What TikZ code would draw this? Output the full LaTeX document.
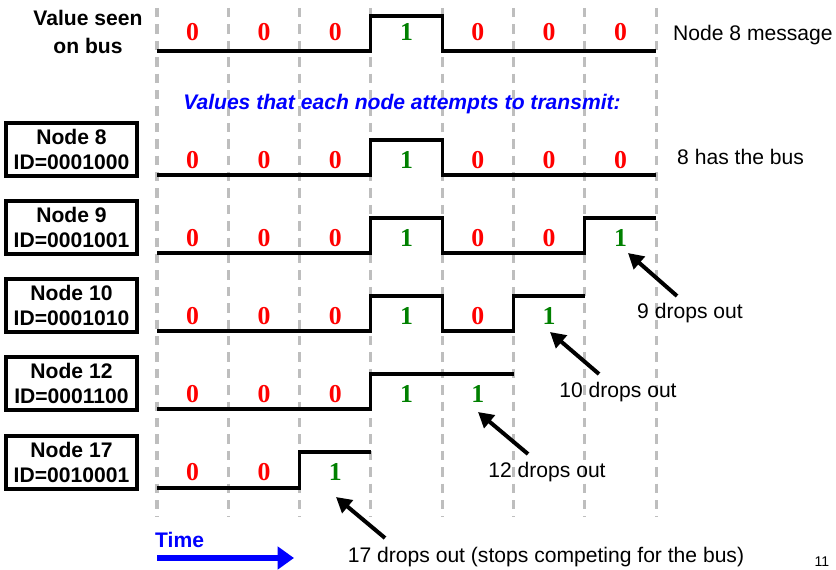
\documentclass[tikz,border=0pt]{standalone}
\usepackage{fontspec}
\setmainfont{Liberation Sans}
\newfontfamily\digfont{Liberation Serif}
\usetikzlibrary{arrows.meta}
\definecolor{gridgray}{RGB}{190,190,190}
\definecolor{dgreen}{RGB}{0,128,0}
\definecolor{tblue}{RGB}{0,0,255}
\begin{document}
\begin{tikzpicture}[x=0.03cm,y=-0.03cm,
  gridline/.style={draw=gridgray,line width=2.6pt,dash pattern=on 8pt off 6pt},
  wave/.style={draw=black,line width=2.6pt,line join=miter},
  bit0/.style={text=red,font=\digfont\bfseries\fontsize{22}{22}\selectfont,inner sep=0pt},
  bit1/.style={text=dgreen,font=\digfont\bfseries\fontsize{22}{22}\selectfont,inner sep=0pt},
  idbox/.style={draw=black,line width=2.6pt,minimum width=3.93cm,minimum height=1.59cm,
    align=center,inner sep=0pt,font=\bfseries\fontsize{18}{21.3}\selectfont},
  plain/.style={font=\fontsize{18}{21.3}\selectfont,inner sep=0pt},
  droparrow/.style={draw=black,line width=3.4pt,-{Triangle[length=13pt,width=14pt]}},
  timearrow/.style={draw=tblue,line width=5pt,-{Triangle[length=14pt,width=19pt]}}
]
\useasboundingbox (0,0) rectangle (836,570);
% grid
\foreach \i in {0,...,7}
  \draw[gridline] ({157+71.3*\i},8) -- ({157+71.3*\i},517);
% bus label
\node[font=\bfseries\fontsize{18}{24}\selectfont,align=center,inner sep=0pt] (buslabel) at (88,32) {Value seen\\on bus};
% bus waveform
\draw[wave] (157,51) -- (370.9,51) -- (370.9,16) -- (442.2,16) -- (442.2,51) -- (656.1,51);
\foreach \d [count=\i from 0] in {0,0,0,1,0,0,0}
  \node[bit\d] (bus-\i) at ({192.65+71.3*\i},32) {\d};
\node[plain,anchor=west] (busmsg) at (673,35) {Node 8 message};
% heading
\node[font=\bfseries\itshape\fontsize{18}{21}\selectfont,text=tblue,inner sep=0pt] (heading) at (402,104) {Values that each node attempts to transmit:};
% node 8
\node[idbox] (n8) at (71.5,149.5) {Node 8\\ID=0001000};
\draw[wave] (157,175) -- (370.9,175) -- (370.9,140) -- (442.2,140) -- (442.2,175) -- (656.1,175);
\foreach \d [count=\i from 0] in {0,0,0,1,0,0,0}
  \node[bit\d] (r8-\i) at ({192.65+71.3*\i},160) {\d};
\node[plain,anchor=west] (hasbus) at (677,157) {8 has the bus};
% node 9
\node[idbox] (n9) at (71.5,227.5) {Node 9\\ID=0001001};
\draw[wave] (157,253) -- (370.9,253) -- (370.9,218) -- (442.2,218) -- (442.2,253) -- (584.8,253) -- (584.8,218) -- (656.1,218);
\foreach \d [count=\i from 0] in {0,0,0,1,0,0,1}
  \node[bit\d] (r9-\i) at ({192.65+71.3*\i},238) {\d};
% node 10
\node[idbox] (n10) at (71.5,305.5) {Node 10\\ID=0001010};
\draw[wave] (157,331) -- (370.9,331) -- (370.9,296) -- (442.2,296) -- (442.2,331) -- (513.5,331) -- (513.5,296) -- (584.8,296);
\foreach \d [count=\i from 0] in {0,0,0,1,0,1}
  \node[bit\d] (r10-\i) at ({192.65+71.3*\i},316) {\d};
% node 12
\node[idbox] (n12) at (71.5,383.5) {Node 12\\ID=0001100};
\draw[wave] (157,409) -- (370.9,409) -- (370.9,374) -- (513.5,374);
\foreach \d [count=\i from 0] in {0,0,0,1,1}
  \node[bit\d] (r12-\i) at ({192.65+71.3*\i},394) {\d};
% node 17
\node[idbox] (n17) at (71.5,462.5) {Node 17\\ID=0010001};
\draw[wave] (157,488) -- (299.6,488) -- (299.6,452) -- (370.9,452);
\foreach \d [count=\i from 0] in {0,0,1}
  \node[bit\d] (r17-\i) at ({192.65+71.3*\i},472) {\d};
% drop-out labels and arrows
\node[plain] (d9) at (690,313) {9 drops out};
\node[plain] (d10) at (618,392) {10 drops out};
\node[plain] (d12) at (547,472) {12 drops out};
\node[plain] (d17) at (546,557) {17 drops out (stops competing for the bus)};
\coordinate (a9t) at (677,296);  \coordinate (a9h) at (628,253);
\coordinate (a10t) at (599,374); \coordinate (a10h) at (550,332);
\coordinate (a12t) at (528,454); \coordinate (a12h) at (478,412);
\coordinate (a17t) at (385,538); \coordinate (a17h) at (336,497);
\draw[droparrow] (a9t) -- (a9h);
\draw[droparrow] (a10t) -- (a10h);
\draw[droparrow] (a12t) -- (a12h);
\draw[droparrow] (a17t) -- (a17h);
% time
\node[font=\bfseries\fontsize{18}{21}\selectfont,text=tblue,inner sep=0pt,anchor=west] (time) at (155,540) {Time};
\coordinate (ts) at (157,558); \coordinate (te) at (294,558);
\draw[timearrow] (ts) -- (te);
% page number
\node[font=\fontsize{12}{14}\selectfont,inner sep=0pt] (pnum) at (822,562) {11};
\end{tikzpicture}
\end{document}
